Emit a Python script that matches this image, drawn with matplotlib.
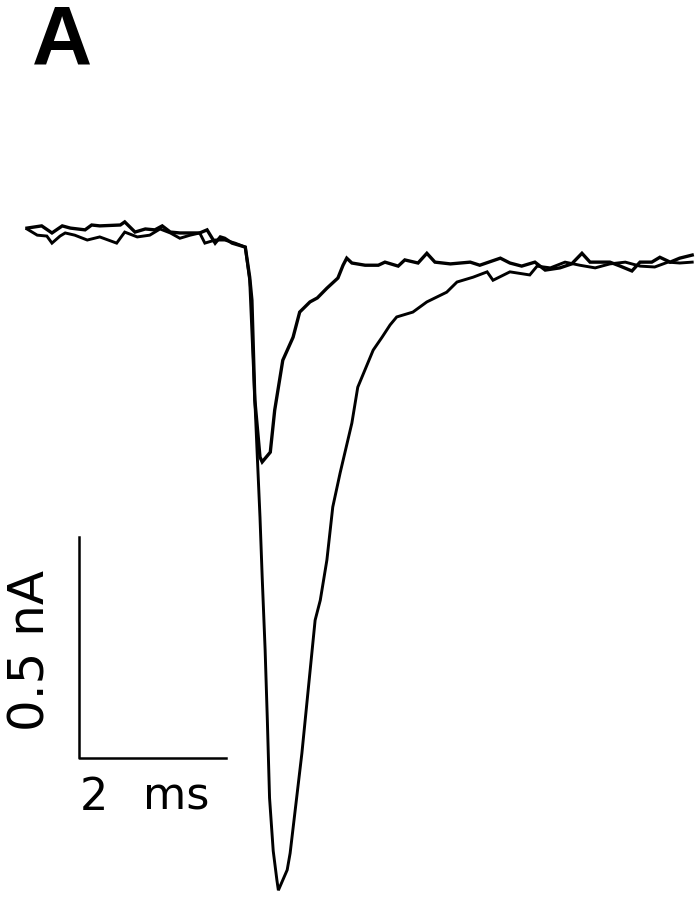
import numpy as np
import matplotlib
matplotlib.use("Agg")
import matplotlib.pyplot as plt

# time in ms, current in nA (inward = negative)
t_fast = [0.00, 0.20, 0.34, 0.48, 0.59, 0.79, 0.88, 0.99, 1.27, 1.33, 1.47, 1.61, 1.74, 1.84,
          1.95, 2.08, 2.22, 2.35, 2.45, 2.56, 2.63, 2.69, 2.79, 2.97,
          3.03, 3.06, 3.10, 3.17, 3.20, 3.31, 3.37, 3.48, 3.62, 3.71, 3.85, 3.95, 4.08, 4.23,
          4.30, 4.35, 4.42, 4.60, 4.78, 4.87, 5.05, 5.14, 5.32, 5.44, 5.55, 5.76, 6.03, 6.16,
          6.44, 6.57, 6.73, 6.91, 7.05, 7.25, 7.41, 7.55, 7.66, 7.93, 8.07, 8.23, 8.34, 8.50,
          8.61, 8.75, 8.88, 9.05]
i_fast = [0.009, 0.014, -0.002, 0.014, 0.009, 0.005, 0.016, 0.014, 0.016, 0.023, 0.000, 0.007,
          0.005, 0.014, 0.000, -0.002, -0.002, -0.002, 0.005, -0.025, -0.011, -0.014, -0.025,
          -0.034,
          -0.102, -0.154, -0.380, -0.509, -0.520, -0.498, -0.403, -0.290, -0.238, -0.181, -0.158,
          -0.149, -0.127, -0.104, -0.075, -0.059, -0.070, -0.075, -0.075, -0.068, -0.077, -0.063,
          -0.070, -0.048, -0.068, -0.072, -0.068, -0.075, -0.059, -0.070, -0.077, -0.068, -0.086,
          -0.081, -0.072, -0.048, -0.068, -0.068, -0.077, -0.088, -0.068, -0.068, -0.057, -0.068,
          -0.059, -0.052]

t_slow = [0.00, 0.14, 0.27, 0.34, 0.45, 0.52, 0.65, 0.82, 0.99, 1.22, 1.33, 1.50, 1.67, 1.81,
          1.95, 2.08, 2.22, 2.35, 2.42, 2.56, 2.69, 2.83, 2.97,
          3.03, 3.10, 3.14, 3.17, 3.20, 3.24, 3.27, 3.30, 3.35, 3.40, 3.42,
          3.48, 3.54, 3.58, 3.74, 3.92, 3.99, 4.08, 4.16, 4.26, 4.42, 4.50, 4.71, 4.83, 4.94,
          5.03, 5.25, 5.44, 5.71, 5.85, 6.07, 6.26, 6.34, 6.57, 6.84, 6.94, 7.12, 7.32, 7.52,
          7.73, 7.93, 8.14, 8.34, 8.54, 8.72, 8.88, 9.05]
i_slow = [0.007, -0.007, -0.009, -0.025, -0.009, -0.002, -0.007, -0.018, -0.011, -0.025, 0.000,
          -0.011, -0.007, 0.007, -0.002, -0.014, -0.007, -0.002, -0.025, -0.018, -0.018, -0.025,
          -0.034,
          -0.109, -0.380, -0.532, -0.645, -0.781, -0.946, -1.104, -1.280, -1.400, -1.466, -1.489,
          -1.466, -1.443, -1.405, -1.179, -0.878, -0.833, -0.742, -0.622, -0.545, -0.432, -0.351,
          -0.267, -0.238, -0.210, -0.192, -0.181, -0.158, -0.136, -0.113, -0.102, -0.090, -0.109,
          -0.090, -0.097, -0.077, -0.081, -0.068, -0.075, -0.081, -0.072, -0.068, -0.077, -0.079,
          -0.068, -0.070, -0.068]

# scale bars
bar_t0, bar_i0 = 0.71, -1.19
bar_ms = 2.0
bar_na = 0.5

fig = plt.figure(figsize=(7, 9), dpi=100)
ax = fig.add_axes([0, 0, 1, 1])
ax.set_xlim(-0.367, 9.156)
ax.set_ylim(-1.511, 0.525)
ax.axis("off")

ax.plot(t_fast, i_fast, color="black", lw=2.4, solid_joinstyle="miter")
ax.plot(t_slow, i_slow, color="black", lw=2.1, solid_joinstyle="miter")

ax.plot([bar_t0, bar_t0, bar_t0 + bar_ms], [bar_i0 + bar_na, bar_i0, bar_i0],
        color="black", lw=1.8)

# "2 ms" label is widely spaced in the original
ax.text(0.72, bar_i0 - 0.04, "2", ha="left", va="top", fontsize=32, family="DejaVu Sans")
ax.text(1.58, bar_i0 - 0.04, "ms", ha="left", va="top", fontsize=32, family="DejaVu Sans")
ax.text(0.05, -0.946, "0.5 nA", ha="center", va="center",
        rotation=90, fontsize=36, family="DejaVu Sans")

fig.text(62 / 700, 1 - 65 / 900, "A", ha="center", va="baseline", fontsize=60,
         fontweight="bold", family="Liberation Sans")

fig.savefig("out.png", dpi=100, facecolor="white")
